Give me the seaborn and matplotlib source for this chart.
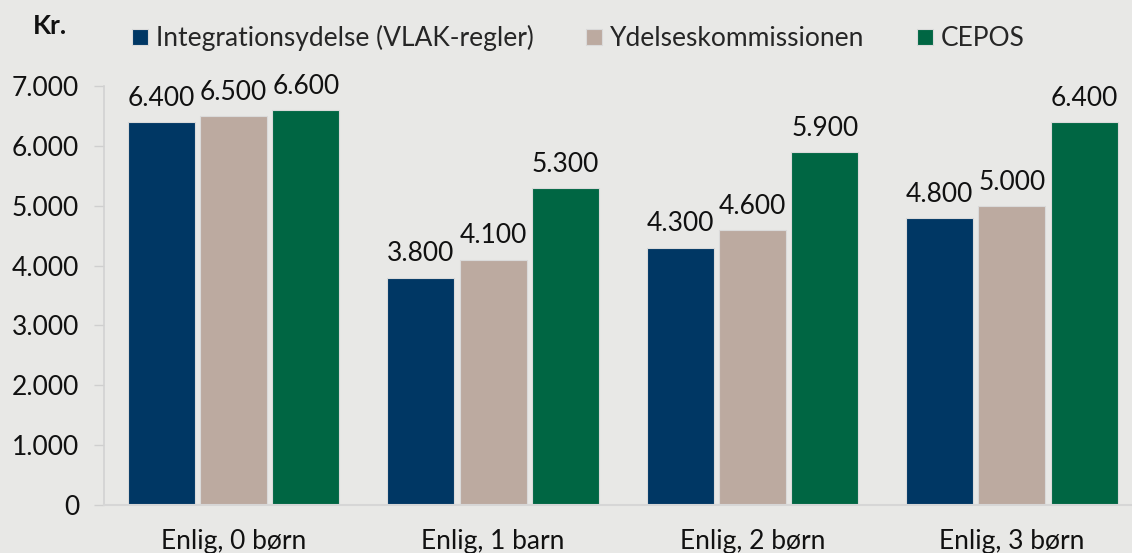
import matplotlib
matplotlib.use("Agg")
import matplotlib.pyplot as plt
import seaborn as sns
import pandas as pd

categories = ["Enlig, 0 børn", "Enlig, 1 barn", "Enlig, 2 børn", "Enlig, 3 børn"]
series = ["Integrationsydelse (VLAK-regler)", "Ydelseskommissionen", "CEPOS"]
integrationsydelse = [6400, 3800, 4300, 4800]
ydelseskommissionen = [6500, 4100, 4600, 5000]
cepos = [6600, 5300, 5900, 6400]
yticks = [0, 1000, 2000, 3000, 4000, 5000, 6000, 7000]
colors = ["#003764", "#BCAAA0", "#006643"]

rows = []
for s, vals in zip(series, [integrationsydelse, ydelseskommissionen, cepos]):
    for c, v in zip(categories, vals):
        rows.append({"Kategori": c, "Serie": s, "Kr": v})
df = pd.DataFrame(rows)

sns.set_theme(style="white")
plt.rcParams["font.family"] = ["Lato", "DejaVu Sans"]
bg = "#E8E8E6"
fs = 19
fig = plt.figure(figsize=(11.32, 5.53), dpi=100, facecolor=bg)
ax = fig.add_axes([0.0919, 0.0868, 0.9081, 0.7577])
ax.set_facecolor(bg)

sns.barplot(data=df, x="Kategori", y="Kr", hue="Serie", order=categories,
            hue_order=series, palette=colors, width=0.835, gap=0.07,
            edgecolor="#DADADA", linewidth=0.8, saturation=1, ax=ax, legend=True)

def fmt(v):
    return f"{int(v):,}".replace(",", ".")

for cont in ax.containers:
    ax.bar_label(cont, labels=[fmt(b.get_height()) for b in cont], padding=8,
                 fontsize=fs, color="#111111")

ax.set_ylim(0, 7000)
ax.set_xlim(-0.5, 3.463)
ax.set_yticks(yticks)
ax.set_yticklabels([fmt(t) for t in yticks], fontsize=fs, color="#111111")
ax.tick_params(axis="y", length=7, width=1, color="#CFCFCF", pad=11, left=True)
ax.tick_params(axis="x", length=0, pad=17, labelsize=fs, labelcolor="#111111")
ax.set_xlabel("")
ax.set_ylabel("")
for sp in ["top", "right"]:
    ax.spines[sp].set_visible(False)
ax.spines["left"].set_color("#D2D2D2")
ax.spines["left"].set_linewidth(1.2)
ax.spines["bottom"].set_color("#D6D6D6")
ax.spines["bottom"].set_linewidth(1.5)

handles, labels = ax.get_legend_handles_labels()
ax.legend_.remove()
fig.legend(handles, labels, loc="center", bbox_to_anchor=(0.511, 0.931), ncol=3,
           frameon=False, fontsize=fs, handlelength=0.6, handleheight=0.6,
           handletextpad=0.3, columnspacing=2.0, borderaxespad=0)
fig.text(0.029, 0.953, "Kr.", fontsize=fs, fontweight="bold", color="#111111",
         va="center", ha="left")

fig.savefig("out.png", dpi=100, facecolor=bg)
